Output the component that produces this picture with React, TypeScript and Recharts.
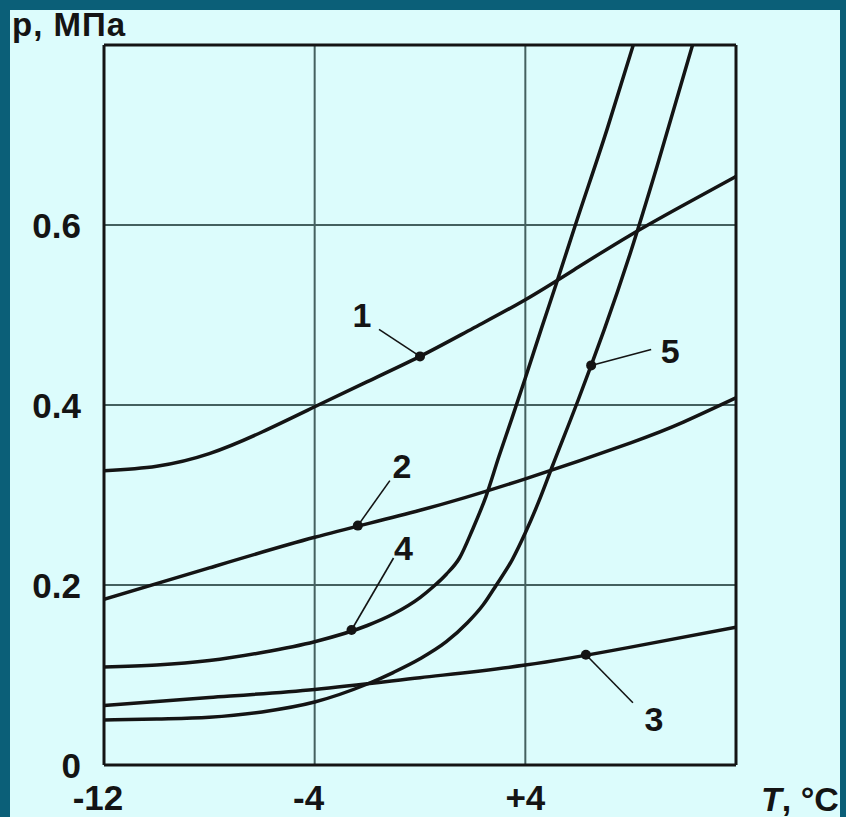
import React from 'react';
import { ComposedChart, Line, XAxis, YAxis, CartesianGrid, ReferenceLine, ReferenceDot } from 'recharts';

// ---- data ----
const curve1T = [-12, -10, -8, -6, -4, -2, 0, 2, 4, 6, 8, 10, 12];
const curve1P = [0.327, 0.332, 0.346, 0.37, 0.398, 0.426, 0.454, 0.485, 0.517, 0.553, 0.589, 0.622, 0.654];

const curve2T = [-12, -8, -4, 0, 4, 8, 10, 12];
const curve2P = [0.184, 0.219, 0.253, 0.283, 0.318, 0.358, 0.381, 0.408];

const curve3T = [-12, -8, -4, 0, 4, 8, 12];
const curve3P = [0.066, 0.075, 0.084, 0.097, 0.111, 0.131, 0.153];

const curve4T = [-12, -10, -8, -6, -4, -2, -1, 0, 0.5, 1, 1.5, 2, 2.5, 3, 3.5, 4, 4.6, 5.2, 5.9, 7.1, 8.1];
const curve4P = [0.109, 0.111, 0.116, 0.125, 0.137, 0.155, 0.168, 0.186, 0.198, 0.212, 0.23, 0.262, 0.298, 0.343, 0.386, 0.43, 0.484, 0.537, 0.6, 0.706, 0.8];

const curve5T = [-12, -10, -8, -6, -4, -2, -1, 0, 1, 1.8, 2.4, 2.9, 3.5, 4, 4.5, 5, 6, 6.5, 7, 8, 9, 10.35];
const curve5P = [0.05, 0.051, 0.053, 0.059, 0.07, 0.09, 0.103, 0.118, 0.137, 0.158, 0.178, 0.2, 0.228, 0.258, 0.292, 0.33, 0.405, 0.444, 0.484, 0.57, 0.665, 0.8];

const markerIds = ['1', '2', '3', '4', '5'];
const markerT = [0, -2.36, 6.3, -2.6, 6.5];
const markerP = [0.454, 0.266, 0.1225, 0.15, 0.444];

const xTicks = [-12, -4, 4];
const xTickLabels = ['-12', '-4', '+4'];
const yTicks = [0, 0.2, 0.4, 0.6];
const yTickLabels = ['0', '0.2', '0.4', '0.6'];

const yTitle = 'p, МПа';
const xTitleItalic = 'T';
const xTitleRest = ', °C';

// ---- build series ----
const zip = (ts: number[], ps: number[]) => ts.map((t, i) => ({ t, p: ps[i] }));
const series = [
  zip(curve1T, curve1P),
  zip(curve2T, curve2P),
  zip(curve3T, curve3P),
  zip(curve4T, curve4P),
  zip(curve5T, curve5P),
];

// ---- styles ----
const FONT = '"Liberation Sans", Arial, sans-serif';
const INK = '#141414';
const GRID = '#44605f';
const BORDER = '#0b5f78';
const BG = '#dcfcfc';
const curveTypes: any[] = ['natural', 'natural', 'natural', 'monotone', 'monotone'];

// leader line start / label centre offsets (pixels) relative to marker dot
const leaderStyle: Record<string, { lx: number; ly: number; tx: number; ty: number }> = {
  '1': { lx: -41, ly: -27, tx: -58, ty: -42 },
  '2': { lx: 32, ly: -45, tx: 44, ty: -60 },
  '3': { lx: 47, ly: 48, tx: 68, ty: 64 },
  '4': { lx: 42, ly: -72, tx: 52, ty: -82 },
  '5': { lx: 60, ly: -16, tx: 79, ty: -15 },
};

const makeMarkerShape = (id: string) => (props: any) => {
  const { cx, cy } = props;
  const s = leaderStyle[id];
  return (
    <g>
      <line x1={cx} y1={cy} x2={cx + s.lx} y2={cy + s.ly} stroke={INK} strokeWidth={1.6} />
      <circle cx={cx} cy={cy} r={5} fill={INK} />
      <text
        x={cx + s.tx}
        y={cy + s.ty}
        dy="0.36em"
        textAnchor="middle"
        fontFamily={FONT}
        fontWeight="bold"
        fontSize={34}
        fill={INK}
      >
        {id}
      </text>
    </g>
  );
};

const XTick = (props: any) => {
  const { x, y, payload } = props;
  const idx = xTicks.indexOf(payload.value);
  const label = idx >= 0 ? xTickLabels[idx] : String(payload.value);
  const shift = label.startsWith('-') ? -6 : 0;
  return (
    <text x={x + shift} y={y} dy="0.71em" textAnchor="middle" fontFamily={FONT} fontWeight="bold" fontSize={35} fill={INK}>
      {label}
    </text>
  );
};

const YTick = (props: any) => {
  const { x, y, payload } = props;
  const idx = yTicks.indexOf(payload.value);
  const label = idx >= 0 ? yTickLabels[idx] : String(payload.value);
  return (
    <text x={x} y={y} dy="0.36em" textAnchor="end" fontFamily={FONT} fontWeight="bold" fontSize={35} fill={INK}>
      {label}
    </text>
  );
};

export default function App() {
  return (
    <div style={{ position: 'absolute', left: 0, top: 0, width: 846, height: 817, background: BORDER, overflow: 'hidden' }}>
      <div style={{ position: 'absolute', left: 10, top: 10, width: 830, height: 807, background: BG }} />
      <div style={{ position: 'absolute', left: 0, top: 0 }}>
        <ComposedChart width={846} height={817} margin={{ top: 45, right: 110, bottom: 0, left: 0 }}>
          <CartesianGrid stroke={GRID} strokeWidth={2} />
          <XAxis
            dataKey="t"
            type="number"
            domain={[-12, 12]}
            ticks={xTicks}
            allowDataOverflow
            height={52}
            tickLine={false}
            tickSize={0}
            tickMargin={20}
            axisLine={{ stroke: INK, strokeWidth: 3 }}
            tick={<XTick />}
            interval={0}
          />
          <YAxis
            dataKey="p"
            type="number"
            domain={[0, 0.8]}
            ticks={yTicks}
            allowDataOverflow
            width={104}
            tickLine={false}
            tickSize={0}
            tickMargin={23}
            axisLine={{ stroke: INK, strokeWidth: 3 }}
            tick={<YTick />}
            interval={0}
          />
          <ReferenceLine y={0.8} stroke={INK} strokeWidth={3} />
          <ReferenceLine x={12} stroke={INK} strokeWidth={3} />
          {series.map((d, i) => (
            <Line
              key={i}
              data={d}
              dataKey="p"
              type={curveTypes[i]}
              stroke={INK}
              strokeWidth={3.5}
              dot={false}
              activeDot={false}
              isAnimationActive={false}
            />
          ))}
          {markerIds.map((id, i) => (
            <ReferenceDot key={id} x={markerT[i]} y={markerP[i]} r={5} shape={makeMarkerShape(id)} />
          ))}
        </ComposedChart>
      </div>
      <div
        style={{
          position: 'absolute',
          left: 12,
          top: 8,
          fontFamily: FONT,
          fontWeight: 'bold',
          fontSize: 33,
          lineHeight: 1,
          color: INK,
          whiteSpace: 'nowrap',
          letterSpacing: 1,
        }}
      >
        {yTitle}
      </div>
      <div
        style={{
          position: 'absolute',
          left: 761,
          top: 782,
          fontFamily: FONT,
          fontWeight: 'bold',
          fontSize: 34,
          lineHeight: 1,
          color: INK,
          whiteSpace: 'nowrap',
        }}
      >
        <i>{xTitleItalic}</i>
        {xTitleRest}
      </div>
      <div style={{ position: 'absolute', left: 840, top: 0, width: 6, height: 817, background: BORDER }} />
    </div>
  );
}
